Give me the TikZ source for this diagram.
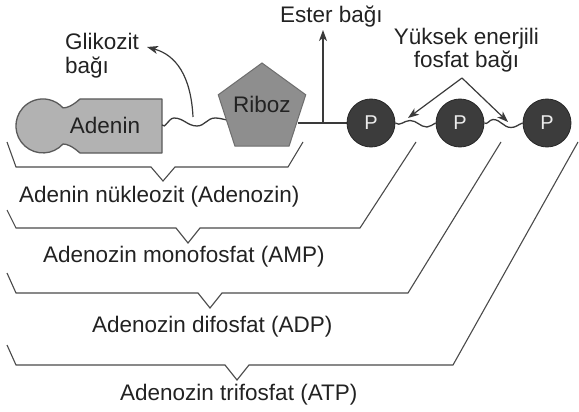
\documentclass[tikz,border=0pt]{standalone}
\usepackage{fontspec}
\setmainfont{Liberation Sans}
\usetikzlibrary{arrows.meta,shapes.geometric}
\definecolor{txt}{HTML}{222222}
\definecolor{lin}{HTML}{3A3A3A}
\definecolor{brk}{HTML}{4A4A4A}
\definecolor{adfill}{HTML}{B2B2B2}
\definecolor{addraw}{HTML}{5A5A5A}
\definecolor{ribfill}{HTML}{8E8E8E}
\definecolor{ribdraw}{HTML}{6E6E6E}
\definecolor{pfill}{HTML}{3C3C3C}
\begin{document}
\begin{tikzpicture}[x=1pt,y=-1pt,
  lbl/.style={inner sep=0pt,text=txt,font=\fontsize{22.5}{27}\selectfont},
  bracketline/.style={draw=brk,line width=1.1pt,line join=miter},
  bondline/.style={draw=lin,line width=1.3pt},
  arr/.style={draw=lin,line width=1.2pt,-{Stealth[length=11pt,width=8pt,inset=3pt]}},
  pball/.style={circle,minimum size=48pt,inner sep=0pt,fill=pfill,draw=black!85,line width=0.8pt,
     text=white!92!black,font=\fontsize{20}{24}\selectfont},
  ribbox/.style={regular polygon,regular polygon sides=5,minimum size=92pt,inner sep=0pt,
     fill=ribfill,draw=ribdraw,line width=1pt}]
\useasboundingbox (0,0) rectangle (579,412);

% coordinates
\coordinate (adE) at (162,125);
\coordinate (ribL) at (227,120);
\coordinate (ribR) at (297.5,123);
\coordinate (esterfoot) at (323,123);
\coordinate (estertop) at (323,30);
\coordinate (glstart) at (193,117);
\coordinate (gltip) at (147,47);
\coordinate (apex) at (462,78);
\coordinate (w1) at (408,118);
\coordinate (w2) at (508,122);

% Adenin shape
\path[fill=adfill,draw=addraw,line width=1.3pt,line join=round]
  (80,99) -- (162,99) -- (162,153) -- (80,153)
  .. controls (72,146) and (67,144) .. (63,144)
  arc[start angle=42,end angle=318,radius=27]
  .. controls (67,108) and (72,106) .. (80,99) -- cycle;
\node[lbl,anchor=base] (adenin) at (105,133) {Adenin};

% wavy bond Adenin - Riboz
\draw[bondline] (adE) to[out=-60,in=180] (174,118) to[out=0,in=180] (197,126)
  to[out=0,in=180] (215,118) to[out=0,in=170] (ribL);

% ester bond line
\draw[bondline] (ribR) -- (esterfoot) -- (371,123);

% Riboz
\node[ribbox] (riboz) at (262,109) {};
\node[lbl,anchor=base] (ribtxt) at (262,112.5) {Riboz};

% phosphates
\node[pball] (p1) at (371,123) {P};
\node[pball] (p2) at (460,123) {P};
\node[pball] (p3) at (547,123) {P};

% high energy wavy bonds
\draw[bondline] (p1.east) to[out=-40,in=180] (410,120.5) to[out=0,in=180] (427,127)
  to[out=0,in=200] (p2.west);
\draw[bondline] (p2.east) to[out=-40,in=180] (493,119.5) to[out=0,in=180] (511,127.5)
  to[out=0,in=200] (p3.west);

% arrows
\draw[arr] (esterfoot) -- (estertop);
\draw[arr] (glstart) .. controls (191,76) and (176,55) .. (gltip);
\draw[arr] (apex) -- (w1);
\draw[arr] (apex) -- (w2);

% labels
\node[lbl,anchor=base west] (gl1) at (65,50) {Glikozit};
\node[lbl,anchor=base west] (gl2) at (65,74) {bağı};
\node[lbl,anchor=base west] (ester) at (280,23) {Ester bağı};
\node[lbl,anchor=base] (yk1) at (466.5,45) {Yüksek enerjili};
\node[lbl,anchor=base] (yk2) at (466.5,68) {fosfat bağı};

% brackets
\draw[bracketline] (7,142) -- (16,167) -- (151,167) -- (163,181) -- (175,167) -- (288,167) -- (303,142);
\draw[bracketline] (7,210) -- (16,228) -- (176,228) -- (188,243) -- (200,228) -- (360,228) -- (416,142);
\draw[bracketline] (7,273) -- (16,293) -- (198,293) -- (210,308) -- (222,293) -- (408,293) -- (501,142);
\draw[bracketline] (7,345) -- (16,365) -- (225,365) -- (237,380) -- (249,365) -- (453,365) -- (578,142);

\node[lbl,anchor=base west] (t1) at (19,202) {Adenin nükleozit (Adenozin)};
\node[lbl,anchor=base west] (t2) at (43,262) {Adenozin monofosfat (AMP)};
\node[lbl,anchor=base west] (t3) at (92,332) {Adenozin difosfat (ADP)};
\node[lbl,anchor=base west] (t4) at (120,400) {Adenozin trifosfat (ATP)};
\end{tikzpicture}
\end{document}
